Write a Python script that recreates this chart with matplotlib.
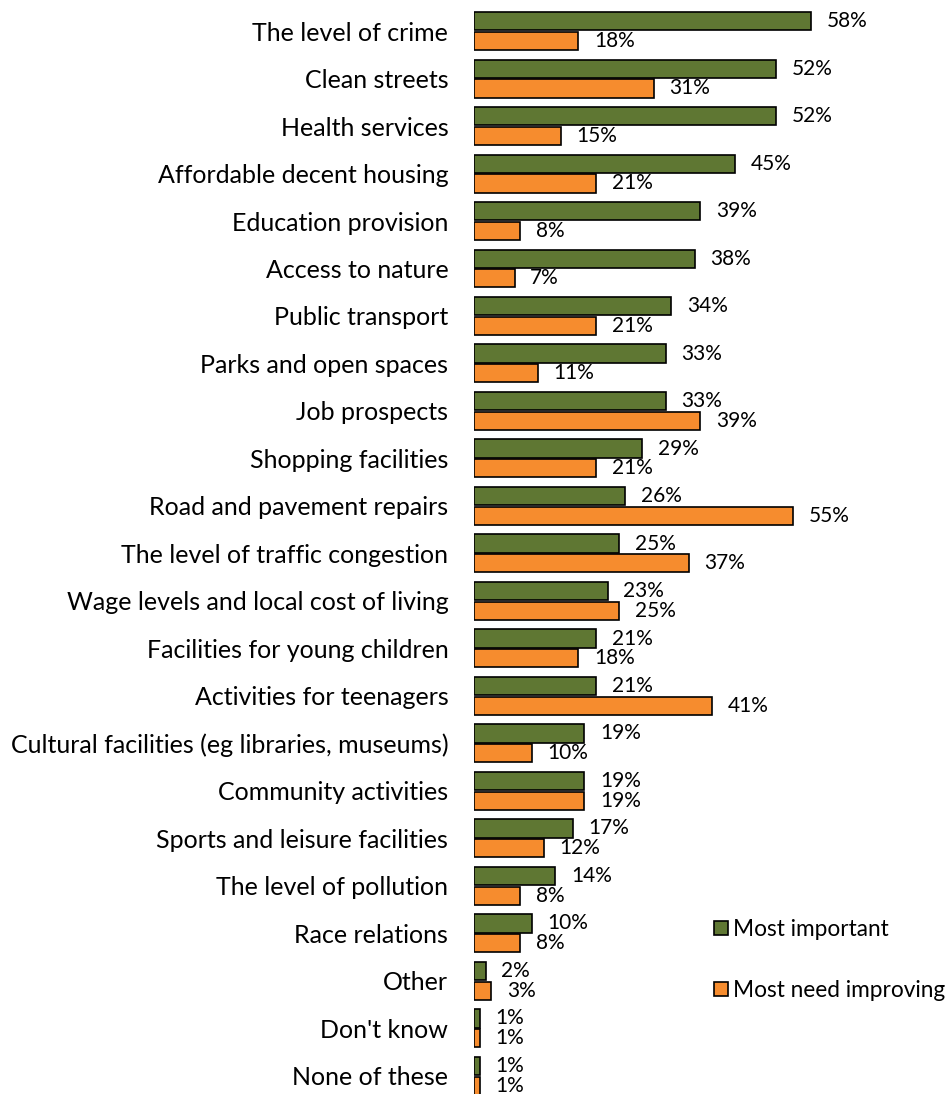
import matplotlib.pyplot as plt
import numpy as np

plt.rcParams['font.family'] = ['Lato', 'DejaVu Sans']

categories = [
    "The level of crime", "Clean streets", "Health services",
    "Affordable decent housing", "Education provision", "Access to nature",
    "Public transport", "Parks and open spaces", "Job prospects",
    "Shopping facilities", "Road and pavement repairs",
    "The level of traffic congestion", "Wage levels and local cost of living",
    "Facilities for young children", "Activities for teenagers",
    "Cultural facilities (eg libraries, museums)", "Community activities",
    "Sports and leisure facilities", "The level of pollution",
    "Race relations", "Other", "Don't know", "None of these",
]
most_important = [58, 52, 52, 45, 39, 38, 34, 33, 33, 29, 26, 25, 23, 21, 21,
                  19, 19, 17, 14, 10, 2, 1, 1]
need_improving = [18, 31, 15, 21, 8, 7, 21, 11, 39, 21, 55, 37, 25, 18, 41,
                  10, 19, 12, 8, 8, 3, 1, 1]

green = '#5f7733'
orange = '#f68c2e'

fig = plt.figure(figsize=(9.5, 10.94), dpi=100)
ax = fig.add_axes([474 / 950, 0, 476 / 950, 1])

y = np.arange(len(categories))
h = 0.38
b1 = ax.barh(y - 0.21, most_important, height=h, color=green,
             edgecolor='black', linewidth=1.2, label='Most important')
b2 = ax.barh(y + 0.21, need_improving, height=h, color=orange,
             edgecolor='black', linewidth=1.2, label='Most need improving')

for bars, vals in ((b1, most_important), (b2, need_improving)):
    for bar, v in zip(bars, vals):
        ax.text(v + 2.7, bar.get_y() + bar.get_height() / 2, f"{v}%",
                va='center', ha='left', fontsize=15)

ax.set_xlim(0, 82)
ax.set_ylim(22.38, -0.653)
ax.set_yticks(y)
ax.set_yticklabels(categories, fontsize=18)
ax.tick_params(axis='y', length=0, pad=18.5)
ax.set_xticks([])
for s in ax.spines.values():
    s.set_visible(False)

fig.legend(handles=[b1, b2], loc='upper left', bbox_to_anchor=(705 / 950, 1 - 910 / 1094),
           frameon=False, fontsize=16.3, handlelength=0.6, handleheight=0.6,
           handletextpad=0.25, labelspacing=1.75, borderaxespad=0)

fig.savefig('out.png', dpi=100)
